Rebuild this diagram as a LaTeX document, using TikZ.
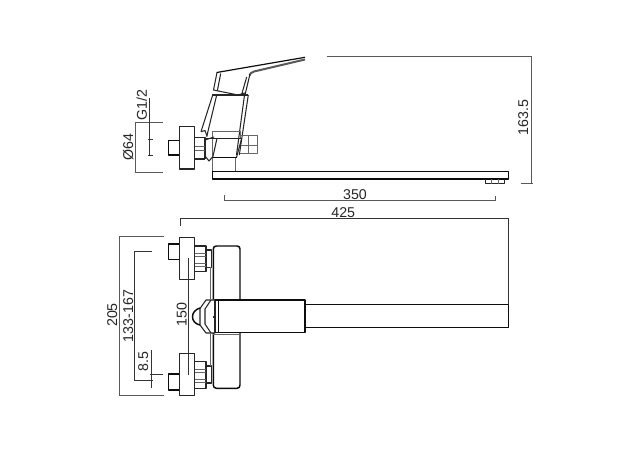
\documentclass[tikz,border=0pt]{standalone}
\usepackage{fontspec}
\setmainfont{Liberation Sans}
\tikzset{
  heavy/.style={draw=black!95,line width=1.45pt,line join=round},
  med/.style={draw=black!85,line width=1.05pt,line join=round},
  lite/.style={draw=black!60,line width=0.85pt,line join=round},
  dimline/.style={draw=black!65,line width=0.85pt},
  dimdark/.style={draw=black!80,line width=0.8pt},
  dimtext/.style={font=\fontsize{14.2}{14.2}\selectfont,text=black!85,inner sep=0pt},
}
\begin{document}
\begin{tikzpicture}[x=1pt,y=-1pt]
\useasboundingbox (0,0) rectangle (640,453);
\fill[white] (0,0) rectangle (640,453);
%% ---- side view: lever
\draw[heavy,line width=1.2pt] (216.7,72.5) -- (305,57.3);
\draw[heavy,line width=2pt,draw=black!65] (305,59.5) -- (254,71.5) .. controls (251,72.5) and (250,73.5) .. (249.5,75.5);
\draw[med] (217,72.5) -- (213.5,90) -- (238,95) -- (245,93);
\draw[med] (220.7,73.5) -- (217.3,91);
\draw[med] (250,74) -- (245,95);
\draw[med] (246.7,77) -- (241.5,95);
\draw[med] (212.3,95) -- (248.3,95);
%% body
\draw[med] (212.7,95) -- (201,131.7);
\draw[med] (216.7,95) -- (206.7,136.7);
\draw[med] (244.5,95) -- (236.5,155);
\draw[med] (248.3,95) -- (239.3,155);
\draw[lite] (212.7,157.5) -- (212.7,131.7) -- (240,131.7) -- (240,138.3);
\draw[med] (206,138.3) -- (241.7,138.3);
\draw[med] (217,138.3) -- (212.7,157.5);
\draw[med] (241.7,138.3) -- (236.5,157.5);
\draw[heavy,line width=1.8pt] (212,157.5) -- (236.5,157.5);
\draw[lite] (212.7,157.5) -- (212.7,171) (235.5,157.5) -- (235.5,171);
%% wall flange and nut
\draw[med] (179.3,126.7) rectangle (194.7,169);
\draw[heavy] (179.3,140.5) -- (168.3,140.5) -- (168.3,155) -- (179.3,155);
\draw[med] (194.7,137.5) -- (205,137.5) -- (205,159);
\draw[med] (194.7,159) -- (205,159);
\draw[lite] (194.7,146) -- (205,146) (194.7,150) -- (205,150);
\draw[med] (205,140) -- (214,137) (205,156) -- (209,161) -- (212.5,157);
\draw[med] (201,131.7) -- (205,130.5) -- (207,136);
%% knob
\draw[lite] (240,135.7) -- (257.8,135.7) -- (257.8,153.3) -- (240,153.3);
\draw[lite] (241,145.5) -- (257.8,145.5) (248.3,135.7) -- (248.3,153.3);
%% spout
\draw[heavy] (212.7,171.3) -- (508.3,171.3) -- (508.3,179) -- (212.7,179) -- cycle;
\draw[med] (485.7,179.3) -- (485.7,183.6) -- (504.3,183.6) -- (504.3,179.3);
\draw[lite] (491,179.3) -- (491,183.6) (498,179.3) -- (498,183.6);
%% ---- plan view: upper valve
\draw[med] (179.3,237.7) rectangle (194.7,279.3);
\draw[heavy] (179.3,244) -- (168.3,244) -- (168.3,259.3) -- (179.3,259.3);
\draw[med] (194.7,246) -- (206,246) -- (206,271.7) -- (194.7,271.7);
\draw[lite] (194.7,253) -- (206,253) (194.7,256.5) -- (206,256.5) (194.7,263) -- (206,263) (194.7,266.5) -- (206,266.5);
\draw[med] (206,250) -- (211.5,250) -- (211.5,267.3) -- (206,267.3);
%% lower valve
\draw[med] (179.3,353.3) rectangle (194.7,395.3);
\draw[heavy] (179.3,374) -- (168.3,374) -- (168.3,390) -- (179.3,390);
\draw[med] (194.7,361.7) -- (206,361.7) -- (206,388.3) -- (194.7,388.3);
\draw[lite] (194.7,369) -- (206,369) (194.7,372.5) -- (206,372.5) (194.7,379) -- (206,379) (194.7,382.5) -- (206,382.5);
\draw[med] (206,366) -- (211.5,366) -- (211.5,383) -- (206,383);
%% body
\draw[heavy] (213.3,300) -- (213.3,249) .. controls (213.3,247) and (214.5,246) .. (216.5,246) -- (237,246) .. controls (239,246) and (240,247) .. (240,249) -- (240,300);
\draw[heavy] (213.3,333) -- (213.3,385) .. controls (213.3,387) and (214.5,388.3) .. (216.5,388.3) -- (237,388.3) .. controls (239,388.3) and (240,387) .. (240,385) -- (240,333);
\draw[lite] (210.7,267.3) -- (210.7,299) (210.7,334) -- (210.7,366);
\draw[lite] (213.3,299.3) -- (240,299.3) (213.3,334) -- (240,334);
%% diverter knob
\draw[med] (215,300) -- (206,300) -- (200,308.5) -- (200,325) -- (206,333) -- (215,333);
\draw[med] (211,300) -- (205,309) -- (205,324) -- (211,333);
\draw[heavy] (200,308) .. controls (195,309.5) and (192.5,313) .. (192.5,316.7) .. controls (192.5,320.5) and (195,324) .. (200,325);
\draw[med] (215,300) -- (215,332.7);
\draw[med] (213.4,315.5) -- (213.4,318);
%% handle square and spout
\draw[heavy] (218.3,300) -- (305,300) -- (305,332.7) -- (218.3,332.7) -- cycle;
\draw[heavy] (215,300) -- (218.3,300) (218.3,332.7) -- (215,332.7);
\draw[heavy] (305,304.3) -- (508.7,304.3) -- (508.7,327.3) -- (305,327.3);
%% ---- dimensions
\draw[dimline] (135,122.7) -- (163.3,122.7);
\draw[dimline] (135,172.3) -- (163.3,172.3);
\draw[dimline] (135,122.7) -- (135,172.3);
\draw[dimdark] (149.3,98.3) -- (149.3,155.7);
\draw[dimdark] (147.8,139.5) -- (153,139.5) (148,155.7) -- (153,155.7);
\node[dimtext,rotate=90] (d64) at (128.3,146.7) {Ø64};
\node[dimtext,rotate=90] (g12) at (141.7,105) {G1/2};
\draw[dimline] (327.3,56.7) -- (532.3,56.7);
\draw[dimline] (531.7,56.7) -- (531.7,183.3);
\draw[dimline] (521,183.3) -- (532.5,183.3);
\node[dimtext,rotate=90] (d163) at (523.3,117.3) {163.5};
\draw[dimline] (224,195.3) -- (224,200.7) -- (495,200.7) -- (495,196);
\node[dimtext] (d350) at (355,194.3) {350};
\draw[dimdark] (180,226) -- (180,218.8) -- (508.7,218.8) -- (508.7,304);
\node[dimtext] (d425) at (343.3,212.3) {425};
\draw[dimline] (164,236.7) -- (119.3,236.7) -- (119.3,395) -- (164,395);
\node[dimtext,rotate=90] (d205) at (112.3,315) {205};
\draw[dimdark] (152,251.7) -- (134.7,251.7) -- (134.7,380.7) -- (152,380.7);
\node[dimtext,rotate=90] (d133) at (128.3,316) {133-167};
\draw[dimdark] (151,350) -- (151,388.3);
\draw[dimdark] (149.5,374) -- (162.7,374);
\draw[dimdark] (149,380.7) -- (153,380.7);
\node[dimtext,rotate=90] (d85) at (143.3,361.7) {8.5};
\draw[dimdark] (188.3,258.3) -- (188.3,375);
\draw[dimdark,line width=1.2pt] (188.3,258) -- (188.3,262) (188.3,371) -- (188.3,375);
\node[dimtext,rotate=90] (d150) at (181.7,314.3) {150};
\end{tikzpicture}
\end{document}
